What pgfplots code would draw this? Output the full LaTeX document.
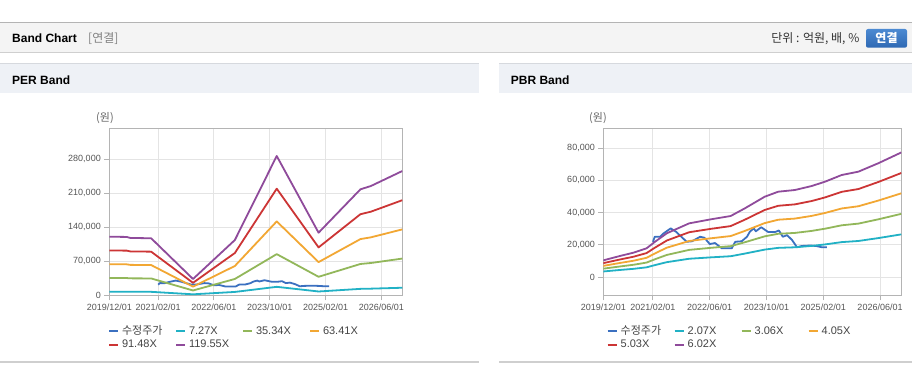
\documentclass[border=0pt]{standalone}
\usepackage{pgfplots}
\usepackage{pgfplotstable}
\pgfplotsset{compat=1.18}
\usepackage{fontspec}
\setmainfont{Liberation Sans}
\newfontfamily\kr{Noto Sans CJK KR}

\definecolor{cPrice}{HTML}{3B70C0}
\definecolor{cA}{HTML}{21B1C5}
\definecolor{cB}{HTML}{92B75A}
\definecolor{cC}{HTML}{F2A733}
\definecolor{cD}{HTML}{CC3535}
\definecolor{cE}{HTML}{8F4B9B}
\definecolor{gridc}{HTML}{E4E4E4}
\definecolor{axc}{HTML}{B4B4B4}
\definecolor{tickc}{HTML}{555555}
\definecolor{legc}{HTML}{444444}
\definecolor{hdrbg}{HTML}{F4F4F4}
\definecolor{hdrline}{HTML}{B4B4B4}
\definecolor{shadowc}{HTML}{CFCFCF}
\definecolor{panelbg}{HTML}{EEF1F6}
\definecolor{panelline}{HTML}{D6D9DE}
\definecolor{btntop}{HTML}{4C8AD2}
\definecolor{btnbot}{HTML}{2E68B3}

\pgfplotstableread{
m price
14 22000
14.5 25100
16 25100
17 27200
19 30300
20.5 28200
22 25100
23.5 22000
25 22300
27.3 25100
28.5 24500
30 20600
31.5 21200
33.4 17950
36.2 17950
37.2 22000
39 22300
40.5 25100
41.3 28200
42.4 30300
43 28500
44.5 31000
46.5 28000
48.4 28000
49.5 29000
50.6 25100
51.8 26100
53.2 23100
54.6 18600
56 19400
58.4 19700
60.2 19300
61.6 18600
63 18600
}\priceTable

\pgfplotstableread{
m b1 b2 b3 b4 b5
0 7335 35658 63981 92303 120626
5 7306 35517 63727 91937 120148
6 7183 34916 62649 90382 118115
12 7139 34704 62269 89833 117398
24 2043 9931 17818 25706 33594
36 6921 33644 60366 87089 113812
48 17441 84781 152121 219461 286800
60 7837 38097 68356 98615 128875
72 13268 64496 115723 166951 218179
75 13682 66510 119338 172165 224993
84 15558 75628 135697 195767 255837
}\perTable

\pgfplotstableread{
m c1 c2 c3 c4 c5
0 3612 5340 7067 8777 10505
4.7 4540 6711 8882 11031 13202
8.5 5243 7751 10259 12741 15249
12.2 6173 9125 12077 15000 17952
14.6 7582 11209 14835 18425 22051
17.9 9371 13853 18334 22771 27253
24.2 11484 16977 22469 27906 33399
30.3 12343 18247 24150 29994 35897
35.9 13049 19290 25531 31709 37950
39.9 14683 21705 28727 35678 42700
45.5 17158 25364 33570 41694 49900
49.3 18224 26940 35656 44284 53000
54 18584 27473 36361 45159 54048
58.7 19427 28718 38009 47207 56498
62.5 20356 30092 39828 49465 59201
67.2 21783 32200 42618 52931 63348
71.9 22488 33244 43999 54646 65401
77.5 24277 35888 47498 58992 70603
84 26581 39293 52006 64590 77303
}\pbrTable

\pgfplotsset{
 bandaxis/.style={
   scale only axis, anchor=south west,
   xmin=0, xmax=84,
   xtick={0,14,30,46,62,78},
   xticklabels={2019/12/01,2021/02/01,2022/06/01,2023/10/01,2025/02/01,2026/06/01},
   grid=major, major grid style={draw=gridc, line width=1pt},
   axis line style={draw=axc, line width=1pt},
   tick align=outside, major tick length=5pt,
   xtick pos=bottom, ytick pos=left,
   tick style={draw=axc, line width=1pt},
   tick label style={font=\fontsize{9}{10}\selectfont, text=tickc},
   /pgf/number format/fixed,
   /pgf/number format/1000 sep={,},
   /pgf/number format/assume math mode=true,
   scaled y ticks=false,
   legend columns=4,
   legend cell align=left,
   legend image code/.code={\draw[##1, line width=2pt] (0pt,0pt) -- (9pt,0pt);},
   legend style={draw=none, fill=none, inner sep=0pt, outer sep=0pt, anchor=north west,
     row sep=0pt, column sep=0pt,
     nodes={font=\fontsize{11}{12}\selectfont, text=legc, inner xsep=3pt, inner ysep=1.4pt,
            text width=50pt, text height=8pt, text depth=2.5pt, align=left}},
   every axis plot/.append style={line width=1.8pt, line join=round, no markers},
 }
}

\begin{document}
\begin{tikzpicture}[x=1pt,y=1pt]
\path[use as bounding box, fill=white] (0,0) rectangle (912,364);
% header
\fill[hdrbg] (0,341) rectangle (912,312);
\draw[hdrline, line width=1.5pt] (0,341.5) -- (912,341.5);
\draw[shadowc, line width=1.5pt] (0,311.5) -- (912,311.5);
\node[anchor=west, inner sep=0, font=\bfseries\fontsize{12}{14}\selectfont] at (12,326) {Band Chart};
\node[anchor=west, inner sep=0, font=\fontsize{12}{14}\selectfont, text=gray] at (88,325.5) {\kr [연결]};
\node[anchor=east, inner sep=0, font=\fontsize{12}{14}\selectfont, text=black!80] at (859.5,325.5) {\kr 단위 : 억원, 배, \%};
\shade[top color=btntop, bottom color=btnbot, rounded corners=2pt] (866,335) rectangle (907,316.3);
\node[inner sep=0, font=\bfseries\fontsize{12}{14}\selectfont, text=white] at (886.5,325.7) {\kr 연결};
% panel headers
\fill[panelbg] (0,300) rectangle (479,271);
\draw[panelline, line width=1pt] (0,300) -- (479,300);
\fill[panelbg] (499,300) rectangle (912,271);
\draw[panelline, line width=1pt] (499,300) -- (912,300);
\node[anchor=west, inner sep=0, font=\bfseries\fontsize{12}{14}\selectfont] at (12,284) {PER Band};
\node[anchor=west, inner sep=0, font=\bfseries\fontsize{12}{14}\selectfont] at (510.7,284) {PBR Band};
\draw[shadowc, line width=1.2pt] (0,2) -- (479,2);
\draw[shadowc, line width=1.2pt] (499,2) -- (912,2);
\node[inner sep=0, font=\fontsize{11}{12}\selectfont, text=black!60] at (105,246) {\kr (원)};
\node[inner sep=0, font=\fontsize{11}{12}\selectfont, text=black!60] at (598,246) {\kr (원)};

% PER
\begin{axis}[bandaxis, at={(109.3pt,68.7pt)}, width=293pt, height=167pt,
  ymin=0, ymax=343800, ytick={0,70000,140000,210000,280000},
  legend style={at={(-0.0044,-0.1766)}}]
\addplot[cPrice] table[x=m,y=price]{\priceTable};
\addplot[cA] table[x=m,y=b1]{\perTable};
\addplot[cB] table[x=m,y=b2]{\perTable};
\addplot[cC] table[x=m,y=b3]{\perTable};
\addplot[cD] table[x=m,y=b4]{\perTable};
\addplot[cE] table[x=m,y=b5]{\perTable};
\legend{{\kr 수정주가},7.27X,35.34X,63.41X,91.48X,119.55X}
\end{axis}

% PBR
\begin{axis}[bandaxis, at={(603.3pt,68.7pt)}, width=298pt, height=167pt,
  ymin=-11146, ymax=92260, ytick={0,20000,40000,60000,80000},
  legend style={at={(0.0114,-0.1766)}}]
\addplot[cPrice] table[x=m,y=price]{\priceTable};
\addplot[cA] table[x=m,y=c1]{\pbrTable};
\addplot[cB] table[x=m,y=c2]{\pbrTable};
\addplot[cC] table[x=m,y=c3]{\pbrTable};
\addplot[cD] table[x=m,y=c4]{\pbrTable};
\addplot[cE] table[x=m,y=c5]{\pbrTable};
\legend{{\kr 수정주가},2.07X,3.06X,4.05X,5.03X,6.02X}
\end{axis}
\end{tikzpicture}
\end{document}
